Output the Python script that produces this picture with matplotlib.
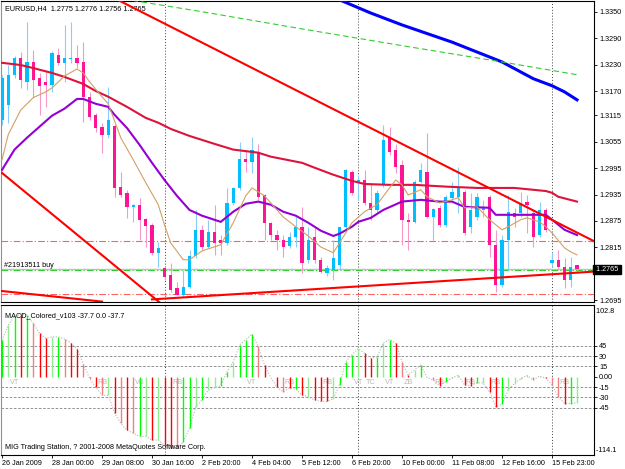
import numpy as np
import matplotlib
matplotlib.use('Agg')
import matplotlib.pyplot as plt

plt.rcParams['font.family'] = ['Liberation Sans', 'DejaVu Sans']
plt.rcParams['font.size'] = 5.2

# ---- EURUSD H4 candles ----
opens = [1.3105, 1.3139, 1.3206, 1.3245, 1.3191, 1.3236, 1.3200, 1.3191, 1.3184, 1.3252,
         1.3234, 1.3242, 1.3245, 1.3236, 1.3157, 1.3116, 1.3089, 1.3071, 1.3090, 1.2953,
         1.2939, 1.2907, 1.2912, 1.2880, 1.2866, 1.2803, 1.2769, 1.2753, 1.2723, 1.2707,
         1.2725, 1.2796, 1.2855, 1.2816, 1.2850, 1.2832, 1.2825, 1.2916, 1.2950, 1.3016,
         1.3009, 1.3032, 1.2934, 1.2871, 1.2843, 1.2832, 1.2819, 1.2839, 1.2862, 1.2787,
         1.2839, 1.2787, 1.2757, 1.2764, 1.2775, 1.2862, 1.2987, 1.2964, 1.2968, 1.2916,
         1.2900, 1.2957, 1.3064, 1.3037, 1.3002, 1.2878, 1.2873, 1.2964, 1.2987, 1.2884,
         1.2905, 1.2866, 1.2928, 1.2930, 1.2941, 1.2862, 1.2884, 1.2900, 1.2930, 1.2821,
         1.2730, 1.2832, 1.2894, 1.2894, 1.2919, 1.2894, 1.2843, 1.2900, 1.2780, 1.2787,
         1.2771, 1.2741, 1.2775]
highs = [1.3206, 1.3229, 1.3249, 1.3258, 1.3327, 1.3263, 1.3211, 1.3218, 1.3261, 1.3268,
         1.3320, 1.3327, 1.3274, 1.3281, 1.3168, 1.3121, 1.3098, 1.3179, 1.3092, 1.2987,
         1.2946, 1.2914, 1.2928, 1.2882, 1.2871, 1.2828, 1.2771, 1.2780, 1.2737, 1.2764,
         1.2809, 1.2900, 1.2866, 1.2878, 1.2912, 1.2843, 1.2950, 1.2953, 1.3055, 1.3037,
         1.3066, 1.3050, 1.2936, 1.2873, 1.2855, 1.2843, 1.2850, 1.2884, 1.2907, 1.2862,
         1.2859, 1.2794, 1.2775, 1.2832, 1.2862, 1.2993, 1.2991, 1.2980, 1.2991, 1.2962,
         1.2946, 1.3093, 1.3089, 1.3050, 1.3014, 1.2894, 1.2968, 1.3007, 1.3075, 1.2905,
         1.2912, 1.2934, 1.2964, 1.2998, 1.2946, 1.2939, 1.2939, 1.2923, 1.2934, 1.2855,
         1.2843, 1.2934, 1.2905, 1.2941, 1.2934, 1.2900, 1.2919, 1.2905, 1.2805, 1.2809,
         1.2791, 1.2794, 1.2776]
lows = [1.3093, 1.3098, 1.3200, 1.3177, 1.3173, 1.3157, 1.3116, 1.3134, 1.3168, 1.3229,
        1.3191, 1.3234, 1.3222, 1.3100, 1.3105, 1.3077, 1.3030, 1.3064, 1.2930, 1.2930,
        1.2882, 1.2873, 1.2832, 1.2816, 1.2798, 1.2771, 1.2741, 1.2714, 1.2707, 1.2703,
        1.2723, 1.2791, 1.2809, 1.2814, 1.2798, 1.2798, 1.2821, 1.2912, 1.2946, 1.2987,
        1.2984, 1.2923, 1.2832, 1.2832, 1.2809, 1.2794, 1.2814, 1.2816, 1.2757, 1.2780,
        1.2780, 1.2757, 1.2750, 1.2741, 1.2764, 1.2859, 1.2934, 1.2923, 1.2912, 1.2878,
        1.2896, 1.2953, 1.3025, 1.2984, 1.2821, 1.2809, 1.2871, 1.2962, 1.2882, 1.2832,
        1.2862, 1.2862, 1.2923, 1.2894, 1.2843, 1.2848, 1.2878, 1.2884, 1.2794, 1.2714,
        1.2725, 1.2764, 1.2862, 1.2884, 1.2848, 1.2816, 1.2839, 1.2850, 1.2773, 1.2764,
        1.2723, 1.2725, 1.2756]
closes = [1.3200, 1.3206, 1.3245, 1.3195, 1.3236, 1.3195, 1.3182, 1.3184, 1.3256, 1.3234,
          1.3245, 1.3245, 1.3234, 1.3157, 1.3111, 1.3086, 1.3071, 1.3105, 1.2950, 1.2934,
          1.2907, 1.2912, 1.2878, 1.2864, 1.2803, 1.2814, 1.2748, 1.2719, 1.2708, 1.2725,
          1.2796, 1.2855, 1.2816, 1.2850, 1.2825, 1.2825, 1.2916, 1.2950, 1.3016, 1.3009,
          1.3037, 1.2930, 1.2871, 1.2843, 1.2832, 1.2816, 1.2839, 1.2862, 1.2780, 1.2832,
          1.2787, 1.2760, 1.2769, 1.2791, 1.2862, 1.2991, 1.2939, 1.2968, 1.2916, 1.2900,
          1.2939, 1.3059, 1.3032, 1.2998, 1.2878, 1.2873, 1.2964, 1.2991, 1.2884, 1.2903,
          1.2866, 1.2930, 1.2941, 1.2950, 1.2848, 1.2900, 1.2930, 1.2907, 1.2821, 1.2730,
          1.2832, 1.2896, 1.2884, 1.2916, 1.2912, 1.2839, 1.2900, 1.2855, 1.2787, 1.2771,
          1.2741, 1.2771, 1.2765]

# moving averages / indicator lines (bar index, price)
purple_x = [0, 2, 4, 8, 10, 12, 13, 15, 17, 18, 20, 22, 24, 26, 28, 30, 32, 35, 37, 39,
            41, 43, 45, 47, 49, 51, 53, 54, 56, 57, 59, 61, 64, 67, 70, 72, 74, 78, 79, 82,
            87, 88, 90, 92]
purple_y = [1.2991, 1.3037, 1.3064, 1.3114, 1.3130, 1.3152, 1.3152, 1.3141, 1.3134, 1.3116,
            1.3086, 1.3048, 1.3007, 1.2968, 1.2932, 1.2900, 1.2887, 1.2873, 1.2896, 1.2914,
            1.2919, 1.2912, 1.2896, 1.2887, 1.2871, 1.2853, 1.2841, 1.2846, 1.2862, 1.2873,
            1.2882, 1.2900, 1.2919, 1.2923, 1.2919, 1.2919, 1.2907, 1.2905, 1.2889, 1.2889,
            1.2889, 1.2878, 1.2855, 1.2843]
tan_x = [0, 1, 3, 5, 7, 8, 10, 12, 13, 14, 16, 17, 19, 21, 23, 25, 26, 27, 29, 30,
         32, 35, 37, 39, 40, 42, 45, 47, 49, 51, 53, 54, 56, 58, 60, 62, 63, 64, 65, 67,
         68, 70, 72, 73, 74, 76, 78, 80, 81, 83, 84, 86, 87, 88, 90, 91, 92]
tan_y = [1.3014, 1.3071, 1.3127, 1.3155, 1.3168, 1.3177, 1.3204, 1.3220, 1.3211, 1.3191,
         1.3157, 1.3141, 1.3064, 1.3014, 1.2962, 1.2912, 1.2866, 1.2825, 1.2787, 1.2787,
         1.2807, 1.2821, 1.2871, 1.2932, 1.2950, 1.2932, 1.2884, 1.2862, 1.2841, 1.2816,
         1.2803, 1.2825, 1.2871, 1.2896, 1.2912, 1.2950, 1.2968, 1.2957, 1.2934, 1.2946,
         1.2930, 1.2916, 1.2923, 1.2928, 1.2905, 1.2907, 1.2878, 1.2855, 1.2862, 1.2878,
         1.2882, 1.2873, 1.2862, 1.2848, 1.2814, 1.2805, 1.2798]
crimson_x = [0, 3, 5, 8, 10, 13, 15, 17, 20, 23, 25, 27, 30, 32, 34, 37, 41, 43, 48, 50,
             53, 56, 58, 62, 66, 71, 76, 82, 87, 88, 89, 92]
crimson_y = [1.3234, 1.3229, 1.3222, 1.3211, 1.3202, 1.3186, 1.3170, 1.3157, 1.3134, 1.3109,
             1.3098, 1.3084, 1.3068, 1.3059, 1.3050, 1.3037, 1.3030, 1.3021, 1.3007, 1.2996,
             1.2980, 1.2966, 1.2959, 1.2957, 1.2957, 1.2953, 1.2950, 1.2950, 1.2943, 1.2939,
             1.2930, 1.2919]
blue_x = [52, 54, 59, 64, 72, 80, 85, 88, 90, 92]
blue_y = [1.3395, 1.3377, 1.3347, 1.3320, 1.3281, 1.3236, 1.3198, 1.3182, 1.3168, 1.3150]
green_x = [19, 32, 48, 64, 80, 92]
green_y = [1.3380, 1.3350, 1.3311, 1.3273, 1.3236, 1.3207]

# hand-drawn trend lines (two anchor points each)
trendlines = [([18.5, 94.6], [1.3377, 1.2830]),
              ([0, 26], [1.2984, 1.2681]),
              ([0, 16], [1.2716, 1.2692]),
              ([24, 94.6], [1.2697, 1.2760])]
tp_level = 1.2830
open_level = 1.2764
sl_level = 1.2710
bid = 1.2765
separators = [26, 57, 88]

price_ticks = [1.3350, 1.3290, 1.3230, 1.3170, 1.3115, 1.3055, 1.2995, 1.2935,
               1.2875, 1.2815, 1.2755, 1.2695]

# ---- MACD_Colored histogram ----
macd = [53, 75, 88, 91, 90, 78, 63, 56, 58, 58, 55, 49, 41, 19, -2, -15, -27, -27, -53, -68,
        -78, -82, -87, -87, -92, -92, -100, -104, -104, -95, -75, -44, -34, -19, -16, -13, 7, 22, 46, 54,
        62, 44, 17, -1, -15, -22, -16, -18, -27, -29, -34, -36, -36, -32, -12, 22, 32, 41, 34, 27,
        29, 49, 54, 49, 22, 2, 10, 17, -1, -5, -13, -7, -2, 2, -12, -13, -9, -9, -22, -44,
        -40, -19, -10, -3, 2, -5, 1, -2, -12, -29, -39, -39, -37.7]
macd_col = ('GgGRGrRRgGrRRrRRrgRrRrGgRgRRrGGgGggGGgGGG'
            'rRRRrRGRgRRRgGGGgRRGgGRrRgGRrRGgg'
            'RRGgRRGggggrgRrrRGg')
macd_levels = [45, 30, 15, -15, -30, -45]
macd_tags = [(2, 'VT'), (16, 'RB'), (22, 'VB'), (28, 'RB'), (40, 'VT'), (46, 'RB'),
             (52, 'RB'), (57, 'VT'), (59, 'TC'), (62, 'VT'), (65, 'ZB'), (70, 'RB'),
             (75, 'RB'), (79, 'RB'), (90, 'RB')]

time_ticks = [0, 8, 16, 24, 32, 40, 48, 56, 64, 72, 80, 88]
time_labels = ['26 Jan 2009', '28 Jan 00:00', '29 Jan 08:00', '30 Jan 16:00', '2 Feb 20:00',
               '4 Feb 04:00', '5 Feb 12:00', '6 Feb 20:00', '10 Feb 00:00', '11 Feb 08:00',
               '12 Feb 16:00', '15 Feb 23:00']

W, H = 625, 469


def px_axes(fig, x0, y0, x1, y1):
    return fig.add_axes([x0 / W, 1 - y1 / H, (x1 - x0) / W, (y1 - y0) / H])


def style_axes(ax):
    for side in ['top', 'right', 'bottom']:
        ax.spines[side].set_color('black')
        ax.spines[side].set_linewidth(0.8)
    ax.spines['left'].set_color('#909090')
    ax.yaxis.tick_right()
    ax.tick_params(axis='y', length=2.2, width=0.6, pad=1.5, labelsize=5.2)


fig = plt.figure(figsize=(6.25, 4.69), dpi=100)
ax = px_axes(fig, 1, 1, 594, 302)
ax2 = px_axes(fig, 1, 305, 594, 455)
style_axes(ax)
style_axes(ax2)

n = len(closes)
idx = np.arange(n)
o, h, l, c = map(np.array, (opens, highs, lows, closes))
up = c >= o

# candles
ax.vlines(idx[up], l[up], h[up], color='#87CEFA', lw=0.8, zorder=3)
ax.vlines(idx[~up], l[~up], h[~up], color='#F49AC8', lw=0.8, zorder=3)
body_lo = np.minimum(o, c)
body_h = np.maximum(np.abs(c - o), 0.00006)
ax.bar(idx[up], body_h[up], 0.5, bottom=body_lo[up], color='#00BFFF', zorder=4)
ax.bar(idx[~up], body_h[~up], 0.5, bottom=body_lo[~up], color='#FF1493', zorder=4)

# indicator lines
ax.plot(crimson_x, crimson_y, color='#DC143C', lw=1.5, zorder=5)
ax.plot(purple_x, purple_y, color='#9400D3', lw=1.5, zorder=5)
ax.plot(tan_x, tan_y, color='#D2A064', lw=0.8, zorder=5)
ax.plot(blue_x, blue_y, color='#0000FF', lw=2.2, zorder=5)
ax.plot(green_x, green_y, color='#32CD32', lw=0.8, ls=(0, (5, 3)), zorder=5)
for tx, ty in trendlines:
    ax.plot(tx, ty, color='#FF0000', lw=1.5, zorder=6)

# order / price lines
ax.axhline(bid, color='#C0C0C0', lw=1, zorder=2)
ax.axhline(open_level, color='#32CD32', lw=0.8, ls=(0, (6, 2, 1, 2)), zorder=2)
ax.axhline(tp_level, color='#FF6060', lw=0.8, ls=(0, (6, 2, 1, 2)), zorder=2)
ax.axhline(sl_level, color='#FF6060', lw=0.8, ls=(0, (6, 2, 1, 2)), zorder=2)
ax.text(0.3, open_level + 0.0003, '#21913511 buy', fontsize=5.2, va='bottom', zorder=7)

for s in separators:
    ax.axvline(s, color='#404040', lw=0.7, ls=(0, (1, 2)), zorder=1)
    ax2.axvline(s, color='#404040', lw=0.7, ls=(0, (1, 2)), zorder=1)

ax.set_xlim(-0.16, 94.72)
ax.set_ylim(1.26911, 1.33743)
ax.set_xticks([])
ax.set_yticks(price_ticks)
# the 1.2755 label sits under the bid price box, so only its tick mark shows
ax.set_yticklabels(['' if t == 1.2755 else '%.4f' % t for t in price_ticks])
ax.text(1.0, bid, ' 1.2765 ', transform=ax.get_yaxis_transform(), ha='left', va='center',
        color='white', fontsize=5.2, clip_on=False, zorder=10,
        bbox=dict(facecolor='black', edgecolor='black', pad=0.6))
ax.text(0.006, 0.975, 'EURUSD,H4  1.2775 1.2776 1.2756 1.2765', transform=ax.transAxes,
        fontsize=5.2, va='center')

# MACD panel
cmap = {'G': '#00FF00', 'g': '#90EE90', 'R': '#FF0000', 'r': '#F08080'}
mv = np.array(macd)
ax2.vlines(idx, 0, mv, colors=[cmap[k] for k in macd_col], lw=1.0, zorder=3)
ax2.plot(idx, mv, color='#B8B8B8', lw=0.8, ls=(0, (1, 1.5)), zorder=2)
for lv in macd_levels:
    ax2.axhline(lv, color='#808080', lw=0.6, ls=(0, (3, 2)), zorder=1)
for b, tag in macd_tags:
    ax2.text(b, -8, tag, color='#B8B8B8', fontsize=5.2, ha='center', va='center', zorder=2)

ax2.set_xlim(-0.16, 94.72)
ax2.set_ylim(-113.97, 104.4)
ax2.set_yticks([45, 30, 15, 0, -15, -30, -45])
ax2.set_yticklabels(['45', '30', '15', '0.00', '-15', '-30', '-45'])
ax2.text(1.0, 95, ' 102.8', transform=ax2.get_yaxis_transform(), fontsize=5.2,
         ha='left', va='center', clip_on=False)
ax2.text(1.0, -108, ' -114.1', transform=ax2.get_yaxis_transform(), fontsize=5.2,
         ha='left', va='center', clip_on=False)
ax2.set_xticks(time_ticks)
ax2.set_xticklabels(time_labels, ha='left')
ax2.tick_params(axis='x', length=2.2, width=0.6, pad=1.5, labelsize=5.2)
ax2.text(0.006, 0.93, 'MACD_Colored_v103 -37.7 0.0 -37.7', transform=ax2.transAxes,
         fontsize=5.2, va='center')
ax2.text(0.006, 0.05, 'MIG Trading Station, ? 2001-2008 MetaQuotes Software Corp.',
         transform=ax2.transAxes, fontsize=5.2, va='center', zorder=8)

fig.savefig('out.png', dpi=100, facecolor='white')
